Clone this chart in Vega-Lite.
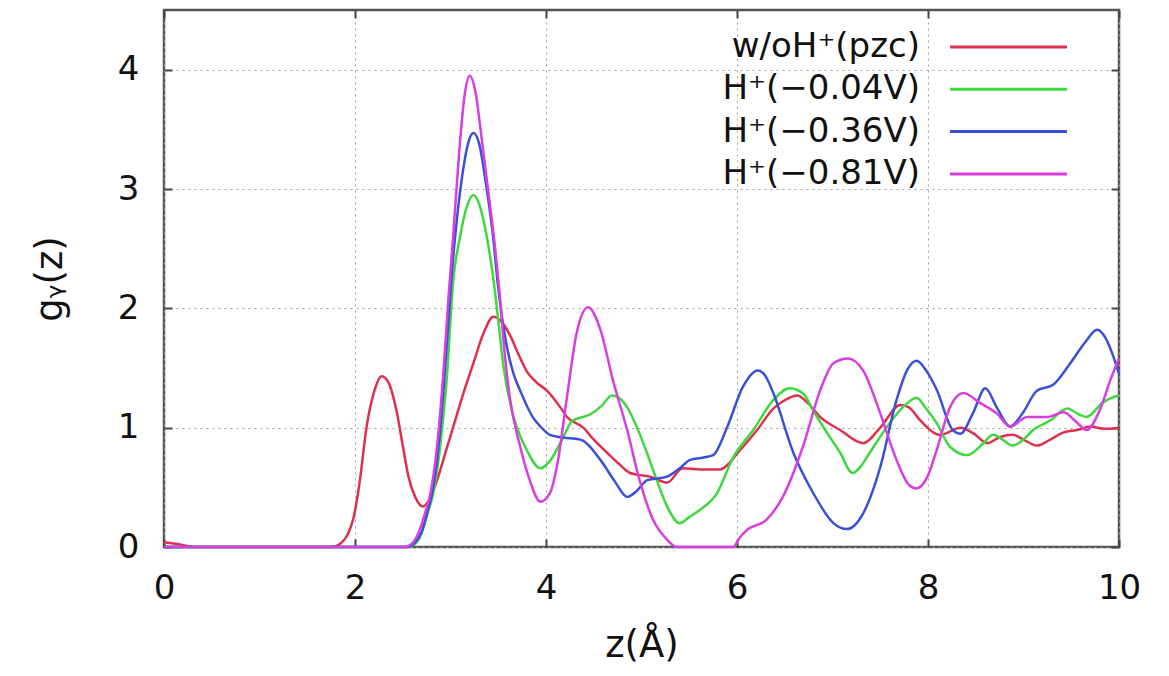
{
  "$schema": "https://vega.github.io/schema/vega-lite/v6.json",
  "width": 955,
  "height": 537,
  "autosize": {"type": "none"},
  "padding": {"left": 164, "top": 10, "right": 50, "bottom": 129},
  "background": "white",
  "config": {
    "font": "DejaVu Sans",
    "view": {"stroke": "#555555", "strokeWidth": 2.5},
    "axis": {
      "domain": false,
      "tickColor": "#444444",
      "tickWidth": 2,
      "tickSize": -8,
      "labelFont": "DejaVu Sans",
      "labelFontSize": 34,
      "labelColor": "#111111",
      "titleFont": "DejaVu Sans",
      "titleFontSize": 37,
      "titleFontWeight": "normal",
      "titleColor": "#111111",
      "gridColor": "#a0a0a0",
      "gridDash": [2, 4],
      "gridWidth": 1,
      "labelFlush": false,
      "labelOverlap": false
    }
  },
  "data": {"values": [
    {"series": "w/oH⁺(pzc)", "z": 0, "g": 0.04},
    {"series": "w/oH⁺(pzc)", "z": 0.1, "g": 0.03},
    {"series": "w/oH⁺(pzc)", "z": 0.2, "g": 0.015},
    {"series": "w/oH⁺(pzc)", "z": 0.35, "g": 0},
    {"series": "w/oH⁺(pzc)", "z": 1.0, "g": 0},
    {"series": "w/oH⁺(pzc)", "z": 1.75, "g": 0},
    {"series": "w/oH⁺(pzc)", "z": 1.85, "g": 0.03},
    {"series": "w/oH⁺(pzc)", "z": 1.92, "g": 0.1},
    {"series": "w/oH⁺(pzc)", "z": 1.98, "g": 0.23},
    {"series": "w/oH⁺(pzc)", "z": 2.05, "g": 0.55},
    {"series": "w/oH⁺(pzc)", "z": 2.12, "g": 1.0},
    {"series": "w/oH⁺(pzc)", "z": 2.2, "g": 1.3},
    {"series": "w/oH⁺(pzc)", "z": 2.28, "g": 1.43},
    {"series": "w/oH⁺(pzc)", "z": 2.35, "g": 1.38},
    {"series": "w/oH⁺(pzc)", "z": 2.44, "g": 1.12},
    {"series": "w/oH⁺(pzc)", "z": 2.5, "g": 0.85},
    {"series": "w/oH⁺(pzc)", "z": 2.56, "g": 0.59},
    {"series": "w/oH⁺(pzc)", "z": 2.63, "g": 0.42},
    {"series": "w/oH⁺(pzc)", "z": 2.71, "g": 0.34},
    {"series": "w/oH⁺(pzc)", "z": 2.78, "g": 0.4},
    {"series": "w/oH⁺(pzc)", "z": 2.86, "g": 0.56},
    {"series": "w/oH⁺(pzc)", "z": 2.95, "g": 0.8},
    {"series": "w/oH⁺(pzc)", "z": 3.03, "g": 1.01},
    {"series": "w/oH⁺(pzc)", "z": 3.14, "g": 1.3},
    {"series": "w/oH⁺(pzc)", "z": 3.24, "g": 1.54},
    {"series": "w/oH⁺(pzc)", "z": 3.34, "g": 1.78},
    {"series": "w/oH⁺(pzc)", "z": 3.45, "g": 1.93},
    {"series": "w/oH⁺(pzc)", "z": 3.52, "g": 1.9},
    {"series": "w/oH⁺(pzc)", "z": 3.62, "g": 1.78},
    {"series": "w/oH⁺(pzc)", "z": 3.72, "g": 1.6},
    {"series": "w/oH⁺(pzc)", "z": 3.8, "g": 1.47},
    {"series": "w/oH⁺(pzc)", "z": 3.9, "g": 1.38},
    {"series": "w/oH⁺(pzc)", "z": 4.01, "g": 1.31},
    {"series": "w/oH⁺(pzc)", "z": 4.15, "g": 1.17},
    {"series": "w/oH⁺(pzc)", "z": 4.22, "g": 1.09},
    {"series": "w/oH⁺(pzc)", "z": 4.39, "g": 1.0},
    {"series": "w/oH⁺(pzc)", "z": 4.5, "g": 0.9},
    {"series": "w/oH⁺(pzc)", "z": 4.64, "g": 0.79},
    {"series": "w/oH⁺(pzc)", "z": 4.76, "g": 0.7},
    {"series": "w/oH⁺(pzc)", "z": 4.88, "g": 0.62},
    {"series": "w/oH⁺(pzc)", "z": 5.09, "g": 0.59},
    {"series": "w/oH⁺(pzc)", "z": 5.27, "g": 0.54},
    {"series": "w/oH⁺(pzc)", "z": 5.43, "g": 0.66},
    {"series": "w/oH⁺(pzc)", "z": 5.61, "g": 0.65},
    {"series": "w/oH⁺(pzc)", "z": 5.82, "g": 0.65},
    {"series": "w/oH⁺(pzc)", "z": 6.03, "g": 0.81},
    {"series": "w/oH⁺(pzc)", "z": 6.21, "g": 0.98},
    {"series": "w/oH⁺(pzc)", "z": 6.38, "g": 1.16},
    {"series": "w/oH⁺(pzc)", "z": 6.5, "g": 1.23},
    {"series": "w/oH⁺(pzc)", "z": 6.63, "g": 1.27},
    {"series": "w/oH⁺(pzc)", "z": 6.75, "g": 1.2},
    {"series": "w/oH⁺(pzc)", "z": 6.87, "g": 1.09},
    {"series": "w/oH⁺(pzc)", "z": 7.08, "g": 0.98},
    {"series": "w/oH⁺(pzc)", "z": 7.32, "g": 0.87},
    {"series": "w/oH⁺(pzc)", "z": 7.5, "g": 1.0},
    {"series": "w/oH⁺(pzc)", "z": 7.71, "g": 1.19},
    {"series": "w/oH⁺(pzc)", "z": 7.8, "g": 1.17},
    {"series": "w/oH⁺(pzc)", "z": 7.92, "g": 1.06},
    {"series": "w/oH⁺(pzc)", "z": 8.13, "g": 0.94},
    {"series": "w/oH⁺(pzc)", "z": 8.34, "g": 1.0},
    {"series": "w/oH⁺(pzc)", "z": 8.48, "g": 0.95},
    {"series": "w/oH⁺(pzc)", "z": 8.62, "g": 0.87},
    {"series": "w/oH⁺(pzc)", "z": 8.75, "g": 0.92},
    {"series": "w/oH⁺(pzc)", "z": 8.89, "g": 0.94},
    {"series": "w/oH⁺(pzc)", "z": 9.0, "g": 0.9},
    {"series": "w/oH⁺(pzc)", "z": 9.14, "g": 0.85},
    {"series": "w/oH⁺(pzc)", "z": 9.28, "g": 0.9},
    {"series": "w/oH⁺(pzc)", "z": 9.42, "g": 0.96},
    {"series": "w/oH⁺(pzc)", "z": 9.56, "g": 0.98},
    {"series": "w/oH⁺(pzc)", "z": 9.7, "g": 1.01},
    {"series": "w/oH⁺(pzc)", "z": 9.85, "g": 0.99},
    {"series": "w/oH⁺(pzc)", "z": 10.0, "g": 1.0},

    {"series": "H⁺(−0.04V)", "z": 0, "g": 0},
    {"series": "H⁺(−0.04V)", "z": 2.55, "g": 0},
    {"series": "H⁺(−0.04V)", "z": 2.62, "g": 0.02},
    {"series": "H⁺(−0.04V)", "z": 2.7, "g": 0.12},
    {"series": "H⁺(−0.04V)", "z": 2.76, "g": 0.28},
    {"series": "H⁺(−0.04V)", "z": 2.82, "g": 0.45},
    {"series": "H⁺(−0.04V)", "z": 2.9, "g": 0.9},
    {"series": "H⁺(−0.04V)", "z": 2.96, "g": 1.4},
    {"series": "H⁺(−0.04V)", "z": 3.03, "g": 2.24},
    {"series": "H⁺(−0.04V)", "z": 3.1, "g": 2.6},
    {"series": "H⁺(−0.04V)", "z": 3.17, "g": 2.85},
    {"series": "H⁺(−0.04V)", "z": 3.24, "g": 2.95},
    {"series": "H⁺(−0.04V)", "z": 3.31, "g": 2.85},
    {"series": "H⁺(−0.04V)", "z": 3.38, "g": 2.6},
    {"series": "H⁺(−0.04V)", "z": 3.45, "g": 2.24},
    {"series": "H⁺(−0.04V)", "z": 3.5, "g": 1.9},
    {"series": "H⁺(−0.04V)", "z": 3.55, "g": 1.54},
    {"series": "H⁺(−0.04V)", "z": 3.65, "g": 1.12},
    {"series": "H⁺(−0.04V)", "z": 3.72, "g": 0.95},
    {"series": "H⁺(−0.04V)", "z": 3.8, "g": 0.81},
    {"series": "H⁺(−0.04V)", "z": 3.94, "g": 0.66},
    {"series": "H⁺(−0.04V)", "z": 4.04, "g": 0.72},
    {"series": "H⁺(−0.04V)", "z": 4.15, "g": 0.87},
    {"series": "H⁺(−0.04V)", "z": 4.28, "g": 1.06},
    {"series": "H⁺(−0.04V)", "z": 4.46, "g": 1.11},
    {"series": "H⁺(−0.04V)", "z": 4.58, "g": 1.18},
    {"series": "H⁺(−0.04V)", "z": 4.69, "g": 1.27},
    {"series": "H⁺(−0.04V)", "z": 4.78, "g": 1.24},
    {"series": "H⁺(−0.04V)", "z": 4.85, "g": 1.17},
    {"series": "H⁺(−0.04V)", "z": 4.98, "g": 0.95},
    {"series": "H⁺(−0.04V)", "z": 5.07, "g": 0.76},
    {"series": "H⁺(−0.04V)", "z": 5.16, "g": 0.56},
    {"series": "H⁺(−0.04V)", "z": 5.28, "g": 0.32},
    {"series": "H⁺(−0.04V)", "z": 5.4, "g": 0.2},
    {"series": "H⁺(−0.04V)", "z": 5.5, "g": 0.25},
    {"series": "H⁺(−0.04V)", "z": 5.61, "g": 0.31},
    {"series": "H⁺(−0.04V)", "z": 5.79, "g": 0.45},
    {"series": "H⁺(−0.04V)", "z": 5.96, "g": 0.75},
    {"series": "H⁺(−0.04V)", "z": 6.17, "g": 0.98},
    {"series": "H⁺(−0.04V)", "z": 6.38, "g": 1.23},
    {"series": "H⁺(−0.04V)", "z": 6.55, "g": 1.33},
    {"series": "H⁺(−0.04V)", "z": 6.7, "g": 1.28},
    {"series": "H⁺(−0.04V)", "z": 6.8, "g": 1.14},
    {"series": "H⁺(−0.04V)", "z": 6.9, "g": 1.01},
    {"series": "H⁺(−0.04V)", "z": 7.08, "g": 0.79},
    {"series": "H⁺(−0.04V)", "z": 7.21, "g": 0.62},
    {"series": "H⁺(−0.04V)", "z": 7.3, "g": 0.68},
    {"series": "H⁺(−0.04V)", "z": 7.39, "g": 0.79},
    {"series": "H⁺(−0.04V)", "z": 7.6, "g": 1.04},
    {"series": "H⁺(−0.04V)", "z": 7.75, "g": 1.18},
    {"series": "H⁺(−0.04V)", "z": 7.88, "g": 1.25},
    {"series": "H⁺(−0.04V)", "z": 7.98, "g": 1.16},
    {"series": "H⁺(−0.04V)", "z": 8.09, "g": 1.04},
    {"series": "H⁺(−0.04V)", "z": 8.23, "g": 0.84},
    {"series": "H⁺(−0.04V)", "z": 8.41, "g": 0.77},
    {"series": "H⁺(−0.04V)", "z": 8.58, "g": 0.87},
    {"series": "H⁺(−0.04V)", "z": 8.68, "g": 0.94},
    {"series": "H⁺(−0.04V)", "z": 8.78, "g": 0.9},
    {"series": "H⁺(−0.04V)", "z": 8.89, "g": 0.85},
    {"series": "H⁺(−0.04V)", "z": 9.0, "g": 0.9},
    {"series": "H⁺(−0.04V)", "z": 9.1, "g": 0.98},
    {"series": "H⁺(−0.04V)", "z": 9.28, "g": 1.06},
    {"series": "H⁺(−0.04V)", "z": 9.46, "g": 1.16},
    {"series": "H⁺(−0.04V)", "z": 9.56, "g": 1.12},
    {"series": "H⁺(−0.04V)", "z": 9.66, "g": 1.09},
    {"series": "H⁺(−0.04V)", "z": 9.83, "g": 1.21},
    {"series": "H⁺(−0.04V)", "z": 9.92, "g": 1.25},
    {"series": "H⁺(−0.04V)", "z": 10.0, "g": 1.27},

    {"series": "H⁺(−0.36V)", "z": 0, "g": 0},
    {"series": "H⁺(−0.36V)", "z": 2.55, "g": 0},
    {"series": "H⁺(−0.36V)", "z": 2.62, "g": 0.03},
    {"series": "H⁺(−0.36V)", "z": 2.7, "g": 0.13},
    {"series": "H⁺(−0.36V)", "z": 2.76, "g": 0.3},
    {"series": "H⁺(−0.36V)", "z": 2.82, "g": 0.5},
    {"series": "H⁺(−0.36V)", "z": 2.9, "g": 1.05},
    {"series": "H⁺(−0.36V)", "z": 2.96, "g": 1.68},
    {"series": "H⁺(−0.36V)", "z": 3.02, "g": 2.35},
    {"series": "H⁺(−0.36V)", "z": 3.07, "g": 2.77},
    {"series": "H⁺(−0.36V)", "z": 3.13, "g": 3.15},
    {"series": "H⁺(−0.36V)", "z": 3.19, "g": 3.4},
    {"series": "H⁺(−0.36V)", "z": 3.24, "g": 3.47},
    {"series": "H⁺(−0.36V)", "z": 3.3, "g": 3.38},
    {"series": "H⁺(−0.36V)", "z": 3.37, "g": 3.05},
    {"series": "H⁺(−0.36V)", "z": 3.45, "g": 2.57},
    {"series": "H⁺(−0.36V)", "z": 3.49, "g": 2.24},
    {"series": "H⁺(−0.36V)", "z": 3.59, "g": 1.68},
    {"series": "H⁺(−0.36V)", "z": 3.66, "g": 1.45},
    {"series": "H⁺(−0.36V)", "z": 3.73, "g": 1.31},
    {"series": "H⁺(−0.36V)", "z": 3.86, "g": 1.09},
    {"series": "H⁺(−0.36V)", "z": 3.94, "g": 1.01},
    {"series": "H⁺(−0.36V)", "z": 4.04, "g": 0.94},
    {"series": "H⁺(−0.36V)", "z": 4.15, "g": 0.92},
    {"series": "H⁺(−0.36V)", "z": 4.36, "g": 0.9},
    {"series": "H⁺(−0.36V)", "z": 4.57, "g": 0.73},
    {"series": "H⁺(−0.36V)", "z": 4.72, "g": 0.55},
    {"series": "H⁺(−0.36V)", "z": 4.85, "g": 0.42},
    {"series": "H⁺(−0.36V)", "z": 4.95, "g": 0.47},
    {"series": "H⁺(−0.36V)", "z": 5.06, "g": 0.56},
    {"series": "H⁺(−0.36V)", "z": 5.27, "g": 0.59},
    {"series": "H⁺(−0.36V)", "z": 5.4, "g": 0.66},
    {"series": "H⁺(−0.36V)", "z": 5.51, "g": 0.73},
    {"series": "H⁺(−0.36V)", "z": 5.65, "g": 0.75},
    {"series": "H⁺(−0.36V)", "z": 5.75, "g": 0.77},
    {"series": "H⁺(−0.36V)", "z": 5.9, "g": 1.01},
    {"series": "H⁺(−0.36V)", "z": 6.06, "g": 1.34},
    {"series": "H⁺(−0.36V)", "z": 6.22, "g": 1.48},
    {"series": "H⁺(−0.36V)", "z": 6.3, "g": 1.43},
    {"series": "H⁺(−0.36V)", "z": 6.38, "g": 1.29},
    {"series": "H⁺(−0.36V)", "z": 6.59, "g": 0.79},
    {"series": "H⁺(−0.36V)", "z": 6.8, "g": 0.45},
    {"series": "H⁺(−0.36V)", "z": 7.01, "g": 0.2},
    {"series": "H⁺(−0.36V)", "z": 7.15, "g": 0.15},
    {"series": "H⁺(−0.36V)", "z": 7.32, "g": 0.28},
    {"series": "H⁺(−0.36V)", "z": 7.5, "g": 0.67},
    {"series": "H⁺(−0.36V)", "z": 7.67, "g": 1.23},
    {"series": "H⁺(−0.36V)", "z": 7.78, "g": 1.48},
    {"series": "H⁺(−0.36V)", "z": 7.88, "g": 1.56},
    {"series": "H⁺(−0.36V)", "z": 7.98, "g": 1.48},
    {"series": "H⁺(−0.36V)", "z": 8.09, "g": 1.32},
    {"series": "H⁺(−0.36V)", "z": 8.26, "g": 0.98},
    {"series": "H⁺(−0.36V)", "z": 8.34, "g": 0.95},
    {"series": "H⁺(−0.36V)", "z": 8.47, "g": 1.12},
    {"series": "H⁺(−0.36V)", "z": 8.6, "g": 1.33},
    {"series": "H⁺(−0.36V)", "z": 8.72, "g": 1.17},
    {"series": "H⁺(−0.36V)", "z": 8.86, "g": 1.01},
    {"series": "H⁺(−0.36V)", "z": 8.99, "g": 1.12},
    {"series": "H⁺(−0.36V)", "z": 9.14, "g": 1.31},
    {"series": "H⁺(−0.36V)", "z": 9.31, "g": 1.36},
    {"series": "H⁺(−0.36V)", "z": 9.49, "g": 1.54},
    {"series": "H⁺(−0.36V)", "z": 9.65, "g": 1.72},
    {"series": "H⁺(−0.36V)", "z": 9.77, "g": 1.82},
    {"series": "H⁺(−0.36V)", "z": 9.86, "g": 1.75},
    {"series": "H⁺(−0.36V)", "z": 9.93, "g": 1.62},
    {"series": "H⁺(−0.36V)", "z": 10.0, "g": 1.45},

    {"series": "H⁺(−0.81V)", "z": 0, "g": 0},
    {"series": "H⁺(−0.81V)", "z": 2.52, "g": 0},
    {"series": "H⁺(−0.81V)", "z": 2.6, "g": 0.03},
    {"series": "H⁺(−0.81V)", "z": 2.68, "g": 0.15},
    {"series": "H⁺(−0.81V)", "z": 2.74, "g": 0.3},
    {"series": "H⁺(−0.81V)", "z": 2.79, "g": 0.45},
    {"series": "H⁺(−0.81V)", "z": 2.86, "g": 0.85},
    {"series": "H⁺(−0.81V)", "z": 2.92, "g": 1.4},
    {"series": "H⁺(−0.81V)", "z": 2.98, "g": 2.1},
    {"series": "H⁺(−0.81V)", "z": 3.03, "g": 2.63},
    {"series": "H⁺(−0.81V)", "z": 3.09, "g": 3.3},
    {"series": "H⁺(−0.81V)", "z": 3.15, "g": 3.8},
    {"series": "H⁺(−0.81V)", "z": 3.2, "g": 3.95},
    {"series": "H⁺(−0.81V)", "z": 3.26, "g": 3.82},
    {"series": "H⁺(−0.81V)", "z": 3.33, "g": 3.4},
    {"series": "H⁺(−0.81V)", "z": 3.4, "g": 2.95},
    {"series": "H⁺(−0.81V)", "z": 3.45, "g": 2.63},
    {"series": "H⁺(−0.81V)", "z": 3.52, "g": 2.07},
    {"series": "H⁺(−0.81V)", "z": 3.57, "g": 1.6},
    {"series": "H⁺(−0.81V)", "z": 3.62, "g": 1.26},
    {"series": "H⁺(−0.81V)", "z": 3.73, "g": 0.84},
    {"series": "H⁺(−0.81V)", "z": 3.83, "g": 0.56},
    {"series": "H⁺(−0.81V)", "z": 3.94, "g": 0.38},
    {"series": "H⁺(−0.81V)", "z": 4.04, "g": 0.45},
    {"series": "H⁺(−0.81V)", "z": 4.12, "g": 0.7},
    {"series": "H⁺(−0.81V)", "z": 4.22, "g": 1.26},
    {"series": "H⁺(−0.81V)", "z": 4.32, "g": 1.79},
    {"series": "H⁺(−0.81V)", "z": 4.44, "g": 2.01},
    {"series": "H⁺(−0.81V)", "z": 4.57, "g": 1.82},
    {"series": "H⁺(−0.81V)", "z": 4.7, "g": 1.4},
    {"series": "H⁺(−0.81V)", "z": 4.85, "g": 0.98},
    {"series": "H⁺(−0.81V)", "z": 4.98, "g": 0.56},
    {"series": "H⁺(−0.81V)", "z": 5.12, "g": 0.23},
    {"series": "H⁺(−0.81V)", "z": 5.27, "g": 0.06},
    {"series": "H⁺(−0.81V)", "z": 5.37, "g": 0},
    {"series": "H⁺(−0.81V)", "z": 5.96, "g": 0},
    {"series": "H⁺(−0.81V)", "z": 6.03, "g": 0.08},
    {"series": "H⁺(−0.81V)", "z": 6.1, "g": 0.14},
    {"series": "H⁺(−0.81V)", "z": 6.31, "g": 0.23},
    {"series": "H⁺(−0.81V)", "z": 6.48, "g": 0.42},
    {"series": "H⁺(−0.81V)", "z": 6.69, "g": 0.84},
    {"series": "H⁺(−0.81V)", "z": 6.87, "g": 1.31},
    {"series": "H⁺(−0.81V)", "z": 7.01, "g": 1.54},
    {"series": "H⁺(−0.81V)", "z": 7.16, "g": 1.58},
    {"series": "H⁺(−0.81V)", "z": 7.32, "g": 1.48},
    {"series": "H⁺(−0.81V)", "z": 7.5, "g": 1.12},
    {"series": "H⁺(−0.81V)", "z": 7.67, "g": 0.73},
    {"series": "H⁺(−0.81V)", "z": 7.8, "g": 0.52},
    {"series": "H⁺(−0.81V)", "z": 7.88, "g": 0.49},
    {"series": "H⁺(−0.81V)", "z": 8.0, "g": 0.6},
    {"series": "H⁺(−0.81V)", "z": 8.09, "g": 0.81},
    {"series": "H⁺(−0.81V)", "z": 8.23, "g": 1.17},
    {"series": "H⁺(−0.81V)", "z": 8.37, "g": 1.29},
    {"series": "H⁺(−0.81V)", "z": 8.54, "g": 1.21},
    {"series": "H⁺(−0.81V)", "z": 8.72, "g": 1.12},
    {"series": "H⁺(−0.81V)", "z": 8.86, "g": 1.01},
    {"series": "H⁺(−0.81V)", "z": 9.04, "g": 1.09},
    {"series": "H⁺(−0.81V)", "z": 9.25, "g": 1.09},
    {"series": "H⁺(−0.81V)", "z": 9.42, "g": 1.13},
    {"series": "H⁺(−0.81V)", "z": 9.55, "g": 1.05},
    {"series": "H⁺(−0.81V)", "z": 9.66, "g": 0.98},
    {"series": "H⁺(−0.81V)", "z": 9.8, "g": 1.15},
    {"series": "H⁺(−0.81V)", "z": 9.91, "g": 1.4},
    {"series": "H⁺(−0.81V)", "z": 10.0, "g": 1.58}
  ]},
  "layer": [
    {
      "mark": {"type": "line", "interpolate": "monotone", "strokeWidth": 2.5},
      "encoding": {
        "x": {
          "field": "z", "type": "quantitative",
          "scale": {"domain": [0, 10], "nice": false, "zero": false},
          "axis": {"values": [0, 2, 4, 6, 8, 10], "title": "z(Å)", "labelPadding": 32, "titlePadding": 22, "grid": true}
        },
        "y": {
          "field": "g", "type": "quantitative",
          "scale": {"domain": [0, 4.5], "nice": false},
          "axis": {"values": [0, 1, 2, 3, 4], "title": "gᵧ(z)", "labelPadding": 33, "titlePadding": 48, "grid": true}
        },
        "color": {
          "field": "series", "type": "nominal",
          "scale": {
            "domain": ["w/oH⁺(pzc)", "H⁺(−0.04V)", "H⁺(−0.36V)", "H⁺(−0.81V)"],
            "range": ["#e0304f", "#3fd93f", "#3a50d8", "#d83ee0"]
          },
          "legend": {
            "orient": "none", "legendX": 700, "legendY": 20,
            "title": null, "padding": 0,
            "symbolType": "M-5,0H5", "symbolSize": 547.6, "symbolStrokeWidth": 3,
            "labelFont": "DejaVu Sans", "labelFontSize": 34, "labelColor": "#111111",
            "labelAlign": "right", "labelOffset": -105.5, "symbolOffset": 127.5,
            "labelLimit": 400, "rowPadding": 8.3
          }
        }
      }
    },
    {
      "mark": {"type": "line", "opacity": 0},
      "encoding": {
        "x": {
          "field": "z", "type": "quantitative",
          "axis": {"orient": "top", "values": [0, 2, 4, 6, 8, 10], "labels": false, "title": null, "grid": false}
        },
        "y": {
          "field": "g", "type": "quantitative",
          "axis": {"orient": "right", "values": [0, 1, 2, 3, 4], "labels": false, "title": null, "grid": false}
        },
        "detail": {"field": "series", "type": "nominal"}
      }
    }
  ],
  "resolve": {"axis": {"x": "independent", "y": "independent"}}
}
